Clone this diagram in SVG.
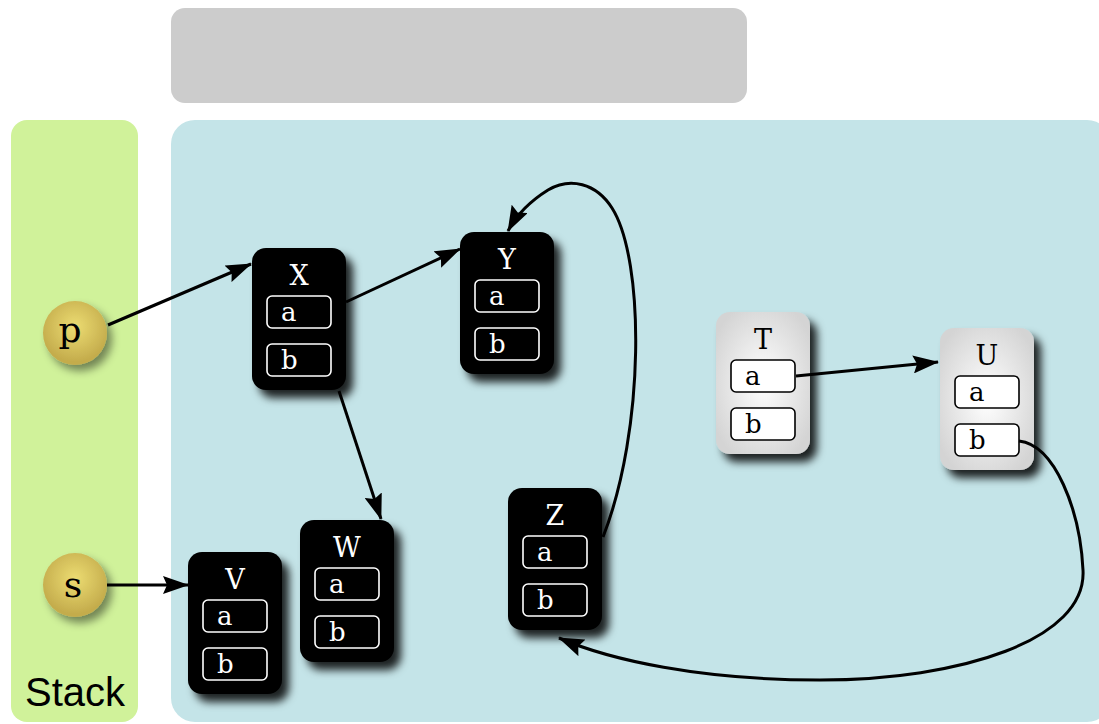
<svg xmlns="http://www.w3.org/2000/svg" width="1099" height="724" viewBox="0 0 1099 724">
  <defs>
    <style>
      .title { font-family: "DejaVu Serif", serif; font-size: 27px; text-anchor: middle; }
      .fld { font-family: "DejaVu Serif", serif; font-size: 26px; }
      .dark .box { fill: #000; }
      .dark .title, .dark .fld { fill: #fff; }
      .dark .cell { fill: none; stroke: #fff; stroke-width: 1.6; }
      .light .box { fill: url(#lightFill); }
      .light .title, .light .fld { fill: #000; }
      .light .cell { fill: #fff; stroke: #000; stroke-width: 1.6; }
      .edge { fill: none; stroke: #000; stroke-width: 3; marker-end: url(#arrow); }
      .var { font-family: "DejaVu Serif", serif; font-size: 36px; text-anchor: middle; fill: #000; }
    </style>
    <marker id="arrow" viewBox="0 0 26 18" refX="25" refY="9" markerWidth="26" markerHeight="18" markerUnits="userSpaceOnUse" orient="auto">
      <path d="M0,0 L26,9 L0,18 L4,9 z" fill="#000"/>
    </marker>
    <radialGradient id="lightFill" cx="50%" cy="50%" r="60%">
      <stop offset="0" stop-color="#ffffff"/>
      <stop offset="1" stop-color="#d4d4d4"/>
    </radialGradient>
    <radialGradient id="gold" cx="50%" cy="40%" r="55%">
      <stop offset="0" stop-color="#ecdc72"/>
      <stop offset="1" stop-color="#c4ac4c"/>
    </radialGradient>
    <filter id="shadow" x="-30%" y="-30%" width="160%" height="160%">
      <feDropShadow dx="7" dy="8" stdDeviation="4.5" flood-color="#000" flood-opacity="0.85"/>
    </filter>
    <filter id="ballShadow" x="-40%" y="-40%" width="180%" height="180%">
      <feDropShadow dx="5" dy="6" stdDeviation="4" flood-color="#000" flood-opacity="0.45"/>
    </filter>
  </defs>

  <!-- regions -->
  <rect x="171" y="8" width="576" height="95" rx="14" fill="#cccccc"/>
  <rect x="11" y="120" width="127" height="602" rx="16" fill="#d0f29a"/>
  <rect x="171" y="120" width="940" height="602" rx="24" fill="#c4e4e8"/>
  <text x="75" y="706" font-family="Liberation Sans, Arial, sans-serif" font-size="40" text-anchor="middle" fill="#000">Stack</text>

  <!-- stack variables -->
  <g id="p">
    <circle cx="75" cy="333" r="32" fill="url(#gold)" filter="url(#ballShadow)"/>
    <text class="var" x="70" y="342">p</text>
  </g>
  <g id="s">
    <circle cx="75" cy="585" r="32" fill="url(#gold)" filter="url(#ballShadow)"/>
    <text class="var" x="73" y="597">s</text>
  </g>

  <!-- heap objects -->
  <g id="X" class="dark">
    <rect class="box" x="252" y="248" width="94" height="142" rx="14" filter="url(#shadow)"/>
    <text class="title" x="299" y="285">X</text>
    <rect class="cell" x="267" y="296" width="64" height="32" rx="5"/>
    <text class="fld" x="281" y="321">a</text>
    <rect class="cell" x="267" y="344" width="64" height="32" rx="5"/>
    <text class="fld" x="281" y="369">b</text>
  </g>
  <g id="Y" class="dark">
    <rect class="box" x="460" y="232" width="94" height="142" rx="14" filter="url(#shadow)"/>
    <text class="title" x="507" y="269">Y</text>
    <rect class="cell" x="475" y="280" width="64" height="32" rx="5"/>
    <text class="fld" x="489" y="305">a</text>
    <rect class="cell" x="475" y="328" width="64" height="32" rx="5"/>
    <text class="fld" x="489" y="353">b</text>
  </g>
  <g id="W" class="dark">
    <rect class="box" x="300" y="520" width="94" height="142" rx="14" filter="url(#shadow)"/>
    <text class="title" x="347" y="557">W</text>
    <rect class="cell" x="315" y="568" width="64" height="32" rx="5"/>
    <text class="fld" x="329" y="593">a</text>
    <rect class="cell" x="315" y="616" width="64" height="32" rx="5"/>
    <text class="fld" x="329" y="641">b</text>
  </g>
  <g id="V" class="dark">
    <rect class="box" x="188" y="552" width="94" height="142" rx="14" filter="url(#shadow)"/>
    <text class="title" x="235" y="589">V</text>
    <rect class="cell" x="203" y="600" width="64" height="32" rx="5"/>
    <text class="fld" x="217" y="625">a</text>
    <rect class="cell" x="203" y="648" width="64" height="32" rx="5"/>
    <text class="fld" x="217" y="673">b</text>
  </g>
  <g id="Z" class="dark">
    <rect class="box" x="508" y="488" width="94" height="142" rx="14" filter="url(#shadow)"/>
    <text class="title" x="555" y="525">Z</text>
    <rect class="cell" x="523" y="536" width="64" height="32" rx="5"/>
    <text class="fld" x="537" y="561">a</text>
    <rect class="cell" x="523" y="584" width="64" height="32" rx="5"/>
    <text class="fld" x="537" y="609">b</text>
  </g>
  <g id="T" class="light">
    <rect class="box" x="716" y="312" width="94" height="142" rx="14" filter="url(#shadow)"/>
    <text class="title" x="763" y="349">T</text>
    <rect class="cell" x="731" y="360" width="64" height="32" rx="5"/>
    <text class="fld" x="745" y="385">a</text>
    <rect class="cell" x="731" y="408" width="64" height="32" rx="5"/>
    <text class="fld" x="745" y="433">b</text>
  </g>
  <g id="U" class="light">
    <rect class="box" x="940" y="328" width="94" height="142" rx="14" filter="url(#shadow)"/>
    <text class="title" x="987" y="365">U</text>
    <rect class="cell" x="955" y="376" width="64" height="32" rx="5"/>
    <text class="fld" x="969" y="401">a</text>
    <rect class="cell" x="955" y="424" width="64" height="32" rx="5"/>
    <text class="fld" x="969" y="449">b</text>
  </g>

  <!-- references -->
  <g id="connectors">
    <path class="edge" d="M108,325 L251,264"/>
    <path class="edge" d="M346,302 L460,249"/>
    <path class="edge" d="M339,391 L381,519"/>
    <path class="edge" d="M107,585 L188,585"/>
    <path class="edge" d="M796,376 L938,362"/>
    <path class="edge" d="M603,537 C645,430 645,260 612,208 C596,183 570,177 548,190 C532,200 518,212 508,231"/>
    <path class="edge" d="M1019,441 C1055,445 1080,510 1083,570 C1087,640 960,680 820,680 C700,680 610,660 559,638"/>
  </g>
</svg>
